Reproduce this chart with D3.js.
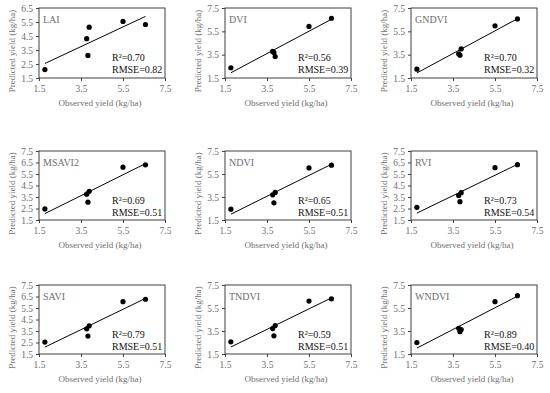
<!DOCTYPE html>
<html>
<head>
<meta charset="utf-8">
<script src="https://cdn.jsdelivr.net/npm/d3@7"></script>
<style>
  body { margin: 0; background: #fff; }
  svg { display: block; }
</style>
</head>
<body>
<script>
var width = 550, height = 393;

// data
var indices = ['LAI', 'DVI', 'GNDVI', 'MSAVI2', 'NDVI', 'RVI', 'SAVI', 'TNDVI', 'WNDVI'];
var observed = [1.78, 3.77, 3.83, 3.89, 5.5, 6.57];
var predLAI = [2.1, 4.31, 3.11, 5.13, 5.54, 5.32];
var predDVI = [2.38, 3.78, 3.69, 3.34, 5.92, 6.62];
var predGNDVI = [2.26, 3.58, 3.46, 3.99, 5.97, 6.56];
var predMSAVI2 = [2.46, 3.75, 3.05, 3.99, 6.09, 6.30];
var predNDVI = [2.44, 3.69, 2.99, 3.9, 6.03, 6.27];
var predRVI = [2.6, 3.64, 3.09, 3.88, 6.05, 6.31];
var predSAVI = [2.54, 3.69, 3.06, 3.95, 6.05, 6.26];
var predTNDVI = [2.56, 3.71, 3.08, 3.97, 6.1, 6.3];
var predWNDVI = [2.49, 3.73, 3.44, 3.62, 6.05, 6.57];
var r2Labels = ['0.70', '0.56', '0.70', '0.69', '0.65', '0.73', '0.79', '0.59', '0.89'];
var rmseLabels = ['0.82', '0.39', '0.32', '0.51', '0.51', '0.54', '0.51', '0.51', '0.40'];
var xTicks = [1.5, 3.5, 5.5, 7.5];
var yTicksLAI = [1.5, 2.5, 3.5, 4.5, 5.5, 6.5];
var yTicksFine = [1.5, 2.5, 3.5, 4.5, 5.5, 6.5, 7.5];
var yTicksCoarse = [1.5, 3.5, 5.5, 7.5];

var predicted = [predLAI, predDVI, predGNDVI, predMSAVI2, predNDVI, predRVI, predSAVI, predTNDVI, predWNDVI];
var yTicks = [yTicksLAI, yTicksCoarse, yTicksCoarse, yTicksFine, yTicksCoarse, yTicksFine, yTicksFine, yTicksCoarse, yTicksCoarse];

// panel boxes
var colLeft = [39, 225, 411];
var rowTop = [8, 151, 285];
var rowBottom = [78, 220, 354];
var boxW = 126;

var FONT = "'Liberation Serif', 'Times New Roman', serif";
var GREY = '#6e6e6e';

var svg = d3.select('body').append('svg').attr('width', width).attr('height', height);

function fitLine(xs, ys) {
    var mx = d3.mean(xs), my = d3.mean(ys);
    var sxy = d3.sum(xs, (x, i) => (x - mx) * (ys[i] - my));
    var sxx = d3.sum(xs, x => (x - mx) * (x - mx));
    var slope = sxy / sxx;
    return { slope: slope, intercept: my - slope * mx };
}

indices.forEach(function (name, i) {
    var col = i % 3, row = Math.floor(i / 3);
    var left = colLeft[col], top = rowTop[row], bottom = rowBottom[row];
    var ticks = yTicks[i];

    var x = d3.scaleLinear().domain([1.5, 7.5]).range([left, left + boxW]);
    var y = d3.scaleLinear().domain([ticks[0], ticks[ticks.length - 1]]).range([bottom, top]);

    var g = svg.append('g').attr('class', 'panel');

    // axes
    var xAxis = g.append('g')
        .attr('transform', 'translate(0,' + bottom + ')')
        .call(d3.axisBottom(x).tickValues(xTicks).tickFormat(d3.format('.1f')).tickSize(3).tickPadding(4));
    var yAxis = g.append('g')
        .attr('transform', 'translate(' + left + ',0)')
        .call(d3.axisLeft(y).tickValues(ticks).tickFormat(d3.format('.1f')).tickSize(3).tickPadding(3));

    [xAxis, yAxis].forEach(function (a) {
        a.select('.domain').remove();
        a.selectAll('line').attr('stroke', '#404040');
        a.selectAll('text')
            .attr('fill', GREY)
            .style('font-family', FONT)
            .style('font-size', '9.5px');
    });

    g.append('rect')
        .attr('x', left).attr('y', top)
        .attr('width', boxW).attr('height', bottom - top)
        .attr('fill', 'none')
        .attr('stroke', '#404040')
        .attr('stroke-width', 1);

    // trend line
    var ys = predicted[i];
    var fit = fitLine(observed, ys);
    var x0 = d3.min(observed), x1 = d3.max(observed);
    g.append('line')
        .attr('x1', x(x0)).attr('y1', y(fit.intercept + fit.slope * x0))
        .attr('x2', x(x1)).attr('y2', y(fit.intercept + fit.slope * x1))
        .attr('stroke', '#000')
        .attr('stroke-width', 1);

    g.selectAll('circle')
        .data(observed)
        .enter().append('circle')
        .attr('cx', d => x(d))
        .attr('cy', (d, j) => y(ys[j]))
        .attr('r', 2.6)
        .attr('fill', '#000');

    // labels
    g.append('text')
        .attr('x', left + 4).attr('y', top + 15)
        .attr('fill', GREY)
        .style('font-family', FONT).style('font-size', '10px')
        .text(name);

    g.append('text')
        .attr('x', left + 73).attr('y', top + 53)
        .attr('fill', '#111')
        .style('font-family', FONT).style('font-size', '10px')
        .text('R\u00b2=' + r2Labels[i]);

    g.append('text')
        .attr('x', left + 73).attr('y', top + 65)
        .attr('fill', '#111')
        .style('font-family', FONT).style('font-size', '10px')
        .text('RMSE=' + rmseLabels[i]);

    g.append('text')
        .attr('x', left + boxW / 2 - 2).attr('y', bottom + 28)
        .attr('text-anchor', 'middle')
        .attr('fill', GREY)
        .style('font-family', FONT).style('font-size', '9px')
        .text('Observed yield (kg/ha)');

    g.append('text')
        .attr('transform', 'translate(' + (left - 24) + ',' + ((top + bottom) / 2 + 8) + ') rotate(-90)')
        .attr('text-anchor', 'middle')
        .attr('fill', GREY)
        .style('font-family', FONT).style('font-size', '9px')
        .text('Predicted yield (kg/ha)');
});
</script>
</body>
</html>
